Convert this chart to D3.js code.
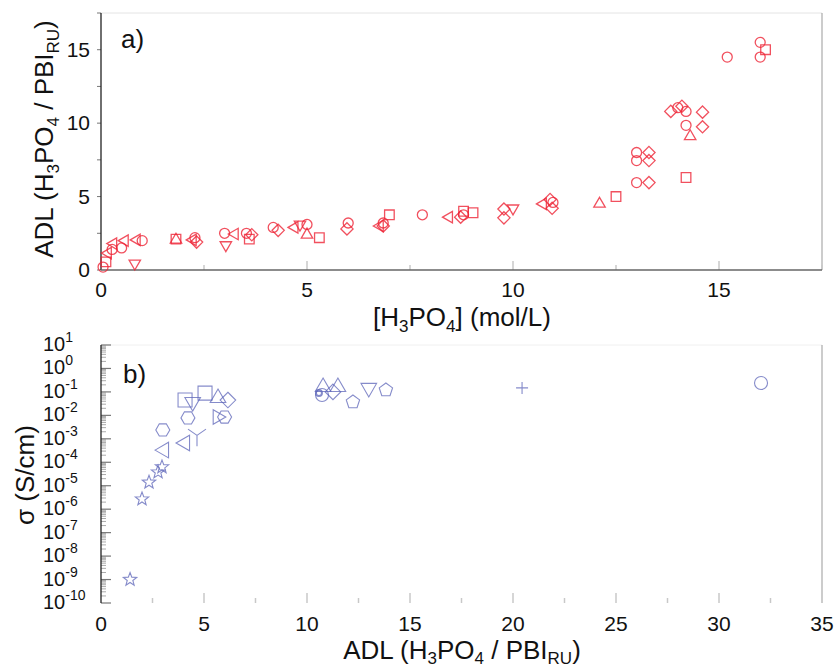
<!DOCTYPE html>
<html><head><meta charset="utf-8">
<script src="https://cdn.jsdelivr.net/npm/d3@7"></script>
<style>
body{margin:0;background:#fff;}
text{font-family:Arial,"Liberation Sans",sans-serif;fill:#111;}
</style></head>
<body><svg id="c" width="836" height="669"></svg>
<script>
// ---------- Panel a data: [H3PO4] (mol/L) vs ADL ----------
const aCircles   = [[0.05,0.2],[0.27,1.4],[0.5,1.5],[1.0,2.0],[2.28,2.2],[3.0,2.5],[3.53,2.5],[4.18,2.9],[5.0,3.1],[6.0,3.2],[6.85,3.2],[7.8,3.76],[8.8,3.76],[10.97,4.6],[13.0,5.95],[13.0,7.45],[13.0,8.0],[14.0,11.05],[14.2,10.8],[14.2,9.85],[15.2,14.5],[16.0,14.5],[16.0,15.5]];
const aSquares   = [[0.12,0.55],[1.82,2.1],[3.6,2.1],[5.3,2.2],[7.0,3.76],[8.8,4.0],[9.03,3.9],[12.5,5.0],[14.2,6.3],[16.13,15.0]];
const aDiamonds  = [[2.32,1.9],[3.66,2.4],[4.3,2.7],[5.97,2.8],[6.85,3.0],[8.73,3.6],[9.78,4.15],[9.78,3.55],[10.9,4.8],[10.95,4.2],[13.3,5.95],[13.3,7.45],[13.3,8.0],[13.83,10.8],[14.1,11.15],[14.6,10.75],[14.6,9.75]];
const aTriUp     = [[1.82,2.05],[5.0,2.4],[12.1,4.5],[14.3,9.1]];
const aTriDown   = [[0.82,0.45],[3.03,1.7],[4.83,3.1],[10.0,4.2]];
const aTriLeft   = [[0.17,1.15],[0.3,1.8],[0.58,2.0],[0.87,2.05],[2.23,2.05],[3.25,2.45],[4.7,2.9],[6.77,3.0],[8.45,3.6],[10.73,4.5]];
const aXTicks = [0,5,10,15];
const aYTicks = [0,5,10,15];

// ---------- Panel b data: ADL vs conductivity (S/cm) ----------
const bStars      = [[1.41,1e-9],[1.99,2.7e-6],[2.33,1.4e-5],[2.77,3.8e-5],[2.96,6.3e-5]];
const bTriLeft    = [[3.06,3.3e-4],[4.08,6.6e-4]];
const bHexagons   = [[3.0,2.4e-3],[4.22,7.8e-3],[6.0,8.5e-3]];
const bWye        = [[4.66,1.4e-3]];
const bSquares    = [[4.08,4.5e-2],[5.05,8.9e-2]];
const bTriDown    = [[4.45,3.7e-2],[13.0,0.148]];
const bTriUp      = [[5.68,5.5e-2],[10.78,0.162],[11.5,0.162]];
const bDiamonds   = [[6.16,4.5e-2],[11.26,0.1]];
const bTriRight   = [[5.65,8.5e-3]];
const bCircles    = [[10.73,0.074],[32.04,0.24]];
const bDots       = [[10.58,0.089]];
const bPentagons  = [[12.23,0.037],[13.83,0.12]];
const bPlus       = [[20.44,0.148]];
const bXTicks = [0,5,10,15,20,25,30,35];
const bYExponents = [1,0,-1,-2,-3,-4,-5,-6,-7,-8,-9,-10];

const svg = d3.select("#c");
const L = 101, R = 822;

function poly(n, r, rot){
  const pts=[];
  for(let i=0;i<n;i++){const a=rot+i*2*Math.PI/n;pts.push([r*Math.cos(a),r*Math.sin(a)]);}
  return "M"+pts.map(p=>p[0].toFixed(2)+","+p[1].toFixed(2)).join("L")+"Z";
}
function star(r){
  const pts=[];
  for(let i=0;i<10;i++){const rr=i%2?r*0.42:r;const a=-Math.PI/2+i*Math.PI/5;pts.push([rr*Math.cos(a),rr*Math.sin(a)]);}
  return "M"+pts.map(p=>p[0].toFixed(2)+","+p[1].toFixed(2)).join("L")+"Z";
}
function shapePath(shape, r){
  switch(shape){
    case "circle": return d3.symbol(d3.symbolCircle, Math.PI*r*r)();
    case "square": return `M${-r},${-r}H${r}V${r}H${-r}Z`;
    case "diamond": {const d=r*1.3;return `M0,${-d}L${d},0L0,${d}L${-d},0Z`;}
    case "triUp": return poly(3,r*1.2,-Math.PI/2);
    case "triDown": return poly(3,r*1.2,Math.PI/2);
    case "triLeft": return poly(3,r*1.2,Math.PI);
    case "triRight": return poly(3,r*1.2,0);
    case "pentagon": return poly(5,r,-Math.PI/2);
    case "hexagon": return poly(6,r,0);
    case "star": return star(r);
    case "wye": return `M0,0L0,${r*1.2}M0,0L${-r},${-r*0.7}M0,0L${r},${-r*0.7}`;
    case "plus": return `M${-r},0H${r}M0,${-r}V${r}`;
  }
}

// ================= Panel a =================
const ax = d3.scaleLinear().domain([0,17.5]).range([L,R]);
const ay = d3.scaleLinear().domain([0,17.5]).range([270,13]);
const ga = svg.append("g");
// frame
ga.append("line").attr("x1",L).attr("x2",R).attr("y1",13).attr("y2",13).attr("stroke","#e4e4e4");
ga.append("line").attr("x1",R).attr("x2",R).attr("y1",13).attr("y2",270).attr("stroke","#999");
// x ticks (inside, gray)
ga.append("g").attr("transform","translate(0,270)")
  .call(d3.axisBottom(ax).tickValues(d3.range(0,17.6,2.5)).tickSize(0).tickFormat(""))
  .call(g=>g.select(".domain").remove());
ga.selectAll(".axt").data(d3.range(2.5,17.6,2.5)).join("line")
  .attr("x1",d=>ax(d)).attr("x2",d=>ax(d)).attr("y1",270).attr("y2",d=>270-(d%5===0?9:5))
  .attr("stroke","#c8c8c8").attr("stroke-width",1.5);
ga.selectAll(".axl").data(aXTicks).join("text")
  .attr("x",d=>ax(d)).attr("y",297).attr("text-anchor","middle").attr("font-size",21).text(d=>d);
// y ticks (outside left)
ga.selectAll(".ayt").data(d3.range(0,17.6,2.5)).join("line")
  .attr("x1",L-4).attr("x2",L).attr("y1",d=>ay(d)).attr("y2",d=>ay(d)).attr("stroke","#777");
ga.selectAll(".ayl").data(aYTicks).join("text")
  .attr("x",L-11).attr("y",d=>ay(d)+7).attr("text-anchor","end").attr("font-size",21).text(d=>d);
// axes lines
ga.append("line").attr("x1",L).attr("x2",L).attr("y1",13).attr("y2",270).attr("stroke","#222").attr("stroke-width",1.3);
ga.append("line").attr("x1",L).attr("x2",R).attr("y1",270).attr("y2",270).attr("stroke","#666").attr("stroke-width",1.5);

const aSeries = [["circle",aCircles,5],["square",aSquares,4.8],["diamond",aDiamonds,4.7],
  ["triUp",aTriUp,5.5],["triDown",aTriDown,5.5],["triLeft",aTriLeft,5.5]];
aSeries.forEach(([sh,data,r])=>{
  ga.append("g").selectAll("path").data(data).join("path")
    .attr("d",shapePath(sh,r))
    .attr("transform",d=>`translate(${ax(d[0])},${ay(d[1])})`)
    .attr("fill","none").attr("stroke","#ee2436").attr("stroke-width",1.3).attr("stroke-opacity",0.8);
});
ga.append("text").attr("x",121).attr("y",48).attr("font-size",26).text("a)");

// titles panel a
const tA = ga.append("text").attr("x",462).attr("y",326).attr("text-anchor","middle").attr("font-size",26);
tA.append("tspan").text("[H");
tA.append("tspan").attr("font-size",17).attr("dy",6).text("3");
tA.append("tspan").attr("dy",-6).text("PO");
tA.append("tspan").attr("font-size",17).attr("dy",6).text("4");
tA.append("tspan").attr("dy",-6).text("] (mol/L)");

const yA = ga.append("text").attr("transform","translate(53,139) rotate(-90)").attr("text-anchor","middle").attr("font-size",26);
yA.append("tspan").text("ADL (H");
yA.append("tspan").attr("font-size",17).attr("dy",6).text("3");
yA.append("tspan").attr("dy",-6).text("PO");
yA.append("tspan").attr("font-size",17).attr("dy",6).text("4");
yA.append("tspan").attr("dy",-6).text(" / PBI");
yA.append("tspan").attr("font-size",17).attr("dy",6).text("RU");
yA.append("tspan").attr("dy",-6).text(")");

// ================= Panel b =================
const bx = d3.scaleLinear().domain([0,35]).range([L,R]);
const by = d3.scaleLog().domain([1e-10,1e1]).range([603,345]);
const gb = svg.append("g");
gb.append("line").attr("x1",L).attr("x2",R).attr("y1",345).attr("y2",345).attr("stroke","#f0f0f0");
gb.append("line").attr("x1",R).attr("x2",R).attr("y1",345).attr("y2",603).attr("stroke","#999");
// x ticks inside
gb.selectAll(".bxt").data(d3.range(2.5,34,2.5)).join("line")
  .attr("x1",d=>bx(d)).attr("x2",d=>bx(d)).attr("y1",603).attr("y2",d=>603-(d%5===0?10:5))
  .attr("stroke","#c8c8c8").attr("stroke-width",1.5);
gb.selectAll(".bxl").data(bXTicks).join("text")
  .attr("x",d=>bx(d)).attr("y",631).attr("text-anchor","middle").attr("font-size",21).text(d=>d);
// y ticks: major + minor (inside)
const minor=[];
for(let e=-10;e<1;e++) for(let m=2;m<=9;m++) minor.push(m*Math.pow(10,e));
gb.selectAll(".bym").data(minor).join("line")
  .attr("x1",L).attr("x2",L+5).attr("y1",d=>by(d)).attr("y2",d=>by(d)).attr("stroke","#aaa");
gb.selectAll(".byM").data(bYExponents).join("line")
  .attr("x1",L).attr("x2",L+10).attr("y1",d=>by(Math.pow(10,d))).attr("y2",d=>by(Math.pow(10,d))).attr("stroke","#777").attr("stroke-width",1.2);
const yl = gb.selectAll(".byl").data(bYExponents).join("text")
  .attr("x",43).attr("y",d=>by(Math.pow(10,d))+6).attr("font-size",20);
yl.append("tspan").text("10");
yl.append("tspan").attr("font-size",14).attr("dy",-9).text(d=>d<0?"-"+(-d):d);
gb.append("line").attr("x1",L).attr("x2",L).attr("y1",345).attr("y2",603).attr("stroke","#222").attr("stroke-width",1.3);

const bSeries = [["star",bStars,7],["triLeft",bTriLeft,7.5],["hexagon",bHexagons,7],["wye",bWye,9],
  ["square",bSquares,7],["triDown",bTriDown,7.5],["triUp",bTriUp,7.5],["diamond",bDiamonds,6],
  ["triRight",bTriRight,7],["circle",bCircles,6.5],["circle",bDots,3],["pentagon",bPentagons,7],["plus",bPlus,6]];
bSeries.forEach(([sh,data,r])=>{
  gb.append("g").selectAll("path").data(data).join("path")
    .attr("d",shapePath(sh,r))
    .attr("transform",d=>`translate(${bx(d[0])},${by(d[1])})`)
    .attr("fill","none").attr("stroke","#5c64b8").attr("stroke-width",sh==="circle"&&r<4?2:1.1).attr("stroke-opacity",0.75);
});
gb.append("text").attr("x",123).attr("y",383).attr("font-size",26).text("b)");

const tB = gb.append("text").attr("x",462).attr("y",659).attr("text-anchor","middle").attr("font-size",26);
tB.append("tspan").text("ADL (H");
tB.append("tspan").attr("font-size",17).attr("dy",5).text("3");
tB.append("tspan").attr("dy",-5).text("PO");
tB.append("tspan").attr("font-size",17).attr("dy",5).text("4");
tB.append("tspan").attr("dy",-5).text(" / PBI");
tB.append("tspan").attr("font-size",17).attr("dy",5).text("RU");
tB.append("tspan").attr("dy",-5).text(")");

gb.append("text").attr("transform","translate(34,475) rotate(-90)").attr("text-anchor","middle").attr("font-size",26).text("σ (S/cm)");
</script></body></html>
